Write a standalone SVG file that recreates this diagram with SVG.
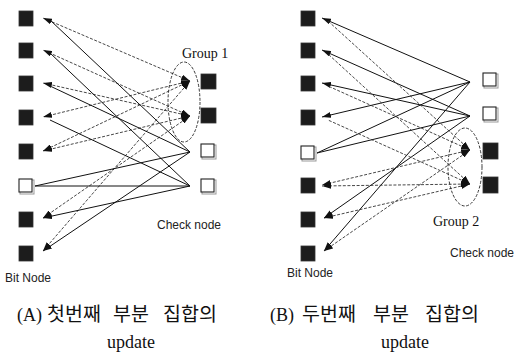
<svg xmlns="http://www.w3.org/2000/svg" width="519" height="355" viewBox="0 0 519 355">
<style>
.full{fill:#1c1c1c;stroke:#333;stroke-width:0.8}
.empty{fill:#fff;stroke:#222;stroke-width:1.1}
.shadow{fill:none;stroke:#999;stroke-width:1}
.s{stroke:#111;stroke-width:1;fill:none}
.d{stroke:#333;stroke-width:0.9;stroke-dasharray:3 1.6;fill:none}
.sa{marker-end:url(#ah)}
.da{marker-end:url(#ah);marker-start:url(#ah)}
.dc{marker-start:url(#ah)}
.grp{fill:none;stroke:#222;stroke-width:0.9;stroke-dasharray:3 1.6}
.lbl{font-family:"Liberation Sans",Arial,sans-serif;font-size:12px;fill:#222}
.gl{font-family:"Liberation Serif","Times New Roman",serif;font-size:14px;fill:#111}
.cap{font-family:"Liberation Serif","Noto Sans CJK KR",serif;font-size:18px;fill:#111}
.ko{font-size:19.5px}
</style>
<defs>
<marker id="ah" viewBox="0 0 9 6" refX="9" refY="3" markerWidth="9" markerHeight="6" markerUnits="userSpaceOnUse" orient="auto-start-reverse">
<path d="M0,0 L9,3 L0,6 z" fill="#111"/>
</marker>
</defs>

<!-- connectors -->
<g id="connectors">
<!-- Panel A: group 1 (dashed, c1 & c2) -->
<line class="d da" x1="190" y1="81" x2="43" y2="18"/>
<line class="d da" x1="190" y1="81" x2="43" y2="117"/>
<line class="d da" x1="190" y1="81" x2="43" y2="151"/>
<line class="d da" x1="190" y1="81" x2="43" y2="251"/>
<line class="d da" x1="190" y1="116" x2="43" y2="50"/>
<line class="d da" x1="190" y1="116" x2="43" y2="83"/>
<line class="d da" x1="190" y1="116" x2="43" y2="151"/>
<line class="d da" x1="190" y1="116" x2="43" y2="218"/>
<!-- Panel A: solid (c3 & c4) -->
<line class="s" x1="190" y1="152" x2="50" y2="20"/>
<line class="s" x1="190" y1="152" x2="50" y2="86"/>
<line class="s" x1="190" y1="152" x2="35" y2="186"/>
<line class="s sa" x1="190" y1="152" x2="43" y2="251"/>
<line class="s" x1="190" y1="186" x2="50" y2="53"/>
<line class="s" x1="190" y1="186" x2="50" y2="120"/>
<line class="s" x1="190" y1="186" x2="35" y2="186"/>
<line class="s sa" x1="190" y1="186" x2="43" y2="218"/>

<!-- Panel B: solid (c1 & c2) -->
<line class="s sa" x1="470" y1="82" x2="322" y2="18"/>
<line class="s sa" x1="470" y1="82" x2="322" y2="117"/>
<line class="s" x1="470" y1="82" x2="317" y2="153"/>
<line class="s sa" x1="470" y1="82" x2="324" y2="251"/>
<line class="s sa" x1="470" y1="116" x2="322" y2="50"/>
<line class="s sa" x1="470" y1="116" x2="322" y2="83"/>
<line class="s" x1="470" y1="116" x2="317" y2="153"/>
<line class="s sa" x1="470" y1="116" x2="324" y2="218"/>
<!-- Panel B: group 2 (dashed, c3 & c4) -->
<line class="d dc" x1="470" y1="150" x2="328" y2="21"/>
<line class="d dc" x1="470" y1="150" x2="328" y2="86"/>
<line class="d da" x1="470" y1="150" x2="322" y2="185"/>
<line class="d da" x1="470" y1="150" x2="324" y2="251"/>
<line class="d dc" x1="470" y1="184" x2="328" y2="54"/>
<line class="d dc" x1="470" y1="184" x2="328" y2="120"/>
<line class="d da" x1="470" y1="184" x2="322" y2="186"/>
<line class="d da" x1="470" y1="184" x2="324" y2="218"/>
</g>

<!-- Panel A nodes -->
<g id="a-bit1"><rect class="full" x="19" y="11" width="14" height="15"/></g>
<g id="a-bit2"><rect class="full" x="19" y="43" width="14" height="15"/></g>
<g id="a-bit3"><rect class="full" x="19" y="76" width="14" height="15"/></g>
<g id="a-bit4"><rect class="full" x="19" y="110" width="14" height="15"/></g>
<g id="a-bit5"><rect class="full" x="19" y="144" width="14" height="15"/></g>
<g id="a-bit6"><rect class="shadow" x="20" y="180" width="14" height="14"/><rect class="empty" x="19" y="179" width="13" height="13"/></g>
<g id="a-bit7"><rect class="full" x="19" y="212" width="14" height="15"/></g>
<g id="a-bit8"><rect class="full" x="19" y="246" width="14" height="15"/></g>
<g id="a-check1"><rect class="full" x="201" y="74" width="15" height="15"/></g>
<g id="a-check2"><rect class="full" x="201" y="108" width="15" height="15"/></g>
<g id="a-check3"><rect class="shadow" x="202" y="145" width="14" height="14"/><rect class="empty" x="201" y="144" width="13" height="13"/></g>
<g id="a-check4"><rect class="shadow" x="202" y="180" width="14" height="14"/><rect class="empty" x="201" y="179" width="13" height="13"/></g>
<g id="a-group1"><ellipse class="grp" cx="184" cy="102" rx="16" ry="40"/><text class="gl" x="182" y="58">Group 1</text></g>
<text class="lbl" x="157" y="229">Check node</text>
<text class="lbl" x="5" y="282">Bit Node</text>

<!-- Panel B nodes -->
<g id="b-bit1"><rect class="full" x="301" y="11" width="14" height="15"/></g>
<g id="b-bit2"><rect class="full" x="301" y="43" width="14" height="15"/></g>
<g id="b-bit3"><rect class="full" x="301" y="76" width="14" height="15"/></g>
<g id="b-bit4"><rect class="full" x="301" y="110" width="14" height="15"/></g>
<g id="b-bit5"><rect class="shadow" x="302" y="147" width="14" height="14"/><rect class="empty" x="301" y="146" width="13" height="13"/></g>
<g id="b-bit6"><rect class="full" x="301" y="178" width="14" height="15"/></g>
<g id="b-bit7"><rect class="full" x="301" y="212" width="14" height="15"/></g>
<g id="b-bit8"><rect class="full" x="301" y="246" width="14" height="15"/></g>
<g id="b-check1"><rect class="shadow" x="484" y="74" width="14" height="14"/><rect class="empty" x="483" y="73" width="13" height="13"/></g>
<g id="b-check2"><rect class="shadow" x="484" y="108" width="14" height="14"/><rect class="empty" x="483" y="107" width="13" height="13"/></g>
<g id="b-check3"><rect class="full" x="483" y="143" width="15" height="16"/></g>
<g id="b-check4"><rect class="full" x="483" y="177" width="15" height="16"/></g>
<g id="b-group2"><ellipse class="grp" cx="465" cy="167" rx="17" ry="39"/><text class="gl" x="433" y="226">Group 2</text></g>
<text class="lbl" x="450" y="257">Check node</text>
<text class="lbl" x="287" y="277">Bit Node</text>

<!-- captions -->
<text class="cap" y="321"><tspan x="17">(A)</tspan><tspan class="ko" x="47">첫번째</tspan><tspan class="ko" x="113">부분</tspan><tspan class="ko" x="163">집합의</tspan></text>
<text class="cap" x="107" y="348">update</text>
<text class="cap" y="321"><tspan x="270">(B)</tspan><tspan class="ko" x="302">두번째</tspan><tspan class="ko" x="373">부분</tspan><tspan class="ko" x="425">집합의</tspan></text>
<text class="cap" x="381" y="348">update</text>
</svg>
